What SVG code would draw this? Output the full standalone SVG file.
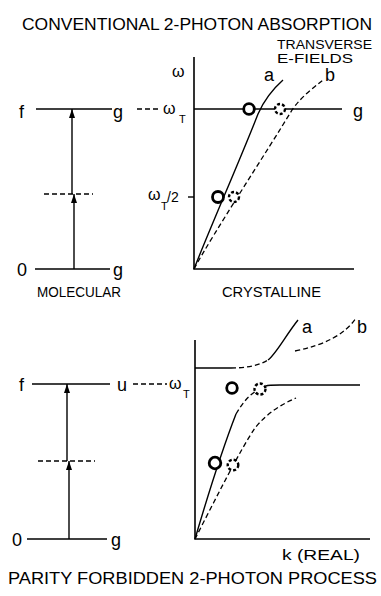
<svg xmlns="http://www.w3.org/2000/svg" width="381" height="596" viewBox="0 0 381 596">
<defs>
<style>
text{font-family:"Liberation Sans","DejaVu Sans",sans-serif;fill:#000}
.t{font-size:17px}
.lb{font-size:18px}
.sm{font-size:14px}
.xs{font-size:13px}
.sub{font-size:11px}
.w{font-size:16px}
.ln{stroke:#000;stroke-width:1.4;fill:none}
.ax{stroke:#000;stroke-width:1.6;fill:none}
.ds{stroke:#000;stroke-width:1.3;fill:none;stroke-dasharray:5 3}
.oc{stroke:#000;stroke-width:2.8;fill:#fff}
.dc{stroke:#000;stroke-width:2.4;fill:#fff;stroke-dasharray:3 2}
</style>
<marker id="ah" viewBox="0 0 9 6" refX="9" refY="3" markerWidth="9" markerHeight="6" markerUnits="userSpaceOnUse" orient="auto">
<path d="M0,0 L9,3 L0,6 Z" fill="#000"/>
</marker>
</defs>
<rect width="381" height="596" fill="#fff"/>

<text class="t" x="22" y="30" textLength="350" lengthAdjust="spacingAndGlyphs">CONVENTIONAL 2-PHOTON ABSORPTION</text>
<text class="t" x="8" y="584" textLength="369" lengthAdjust="spacingAndGlyphs">PARITY FORBIDDEN 2-PHOTON PROCESS</text>

<g id="molecular-top">
<text class="lb" x="19" y="118">f</text>
<path class="ln" d="M36,109 H112"/>
<text class="lb" x="113" y="118">g</text>
<path class="ds" d="M137,109 H161"/>
<text class="w" x="163" y="114">ω</text>
<text class="sub" x="179" y="123">T</text>
<path class="ds" d="M44,194 H93"/>
<path class="ln" d="M35,269 H110"/>
<text class="lb" x="17" y="276">0</text>
<text class="lb" x="113" y="276">g</text>
<text class="sm" x="37" y="297" textLength="84" lengthAdjust="spacingAndGlyphs">MOLECULAR</text>
</g>

<g id="crystalline-top">
<path class="ax" d="M194,57 V269 H354"/>
<text class="w" x="172" y="77">ω</text>
<text class="xs" x="277" y="49" textLength="95" lengthAdjust="spacingAndGlyphs">TRANSVERSE</text>
<text class="xs" x="277" y="63" textLength="76" lengthAdjust="spacingAndGlyphs">E-FIELDS</text>
<text class="lb" x="264" y="81">a</text>
<text class="lb" x="325" y="81">b</text>
<path class="ln" d="M194,109 H342"/>
<text class="lb" x="353" y="117">g</text>
<text class="w" x="148" y="200">ω</text>
<text class="sub" x="161" y="210">T</text>
<text class="sm" x="167" y="202">/2</text>
<path class="ln" d="M188,197 H194"/>
<text class="sm" x="222" y="297" textLength="99" lengthAdjust="spacingAndGlyphs">CRYSTALLINE</text>
</g>

<g id="molecular-bottom">
<text class="lb" x="19" y="391">f</text>
<path class="ln" d="M32,384 H110"/>
<text class="lb" x="117" y="391">u</text>
<path class="ds" d="M133,384 H167"/>
<text class="w" x="169" y="389">ω</text>
<text class="sub" x="183" y="398">T</text>
<path class="ds" d="M38,461 H95"/>
<path class="ln" d="M27,539 H107"/>
<text class="lb" x="12" y="546">0</text>
<text class="lb" x="111" y="546">g</text>
</g>

<g id="crystalline-bottom">
<path class="ax" d="M195,340 V539 H370"/>
<text class="lb" x="302" y="333">a</text>
<text class="lb" x="357" y="333">b</text>
<path class="ln" d="M195,368 H231"/>
<path class="ln" d="M266,386 C268,385 272,385 280,385 H360"/>
<text class="sm" x="282" y="560" textLength="78" lengthAdjust="spacingAndGlyphs">k (REAL)</text>
</g>

<g id="connectors">
<path class="ln" d="M72,194 V109" marker-end="url(#ah)"/>
<path class="ln" d="M74,269 V194" marker-end="url(#ah)"/>
<path class="ln" d="M67,461 V384" marker-end="url(#ah)"/>
<path class="ln" d="M69,539 V461" marker-end="url(#ah)"/>
<path class="ln" d="M194,269 C210,228 240,160 258,114 C265,98 274,88 283,80"/>
<path class="ds" d="M194,269 C214,232 268,150 292,110 C302,96 313,88 323,80"/>
<path class="ds" d="M231,368 C245,368 258,366 268,360"/>
<path class="ln" d="M268,360 C276,354 286,335 298,320"/>
<path class="ds" d="M295,351 Q340,342 356,318"/>
<path class="ln" d="M195,539 C205,505 222,450 236,414"/>
<path class="ds" d="M236,414 C243,402 250,394 258,390"/>
<path class="ds" d="M195,539 C215,500 240,450 255,428 C267,413 282,404 296,398"/>
</g>

<g id="points">
<circle class="oc" cx="249" cy="109" r="5.3"/>
<circle class="dc" cx="280" cy="109" r="5"/>
<circle class="oc" cx="218" cy="197" r="5.5"/>
<circle class="dc" cx="234" cy="197" r="5"/>
<circle class="oc" cx="232" cy="388" r="5.3"/>
<circle class="dc" cx="260" cy="389" r="5.5"/>
<circle class="oc" cx="215" cy="463" r="5.8"/>
<circle class="dc" cx="233" cy="465" r="5.3"/>
</g>
</svg>
